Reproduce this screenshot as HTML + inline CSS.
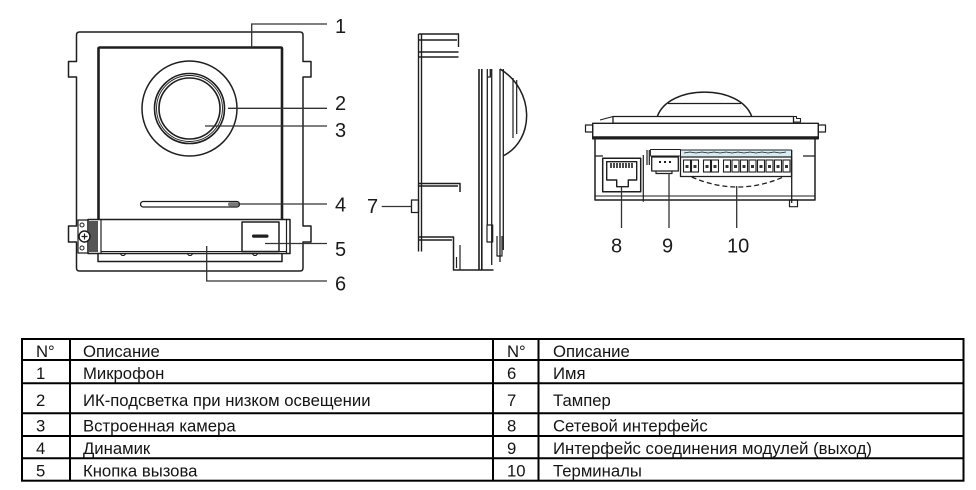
<!DOCTYPE html>
<html><head><meta charset="utf-8"><style>
html,body{margin:0;padding:0;background:#fff;}
svg{display:block;}
.t{font-family:"Liberation Sans",sans-serif;font-size:16.7px;fill:#141414;}
.lb{font-family:"Liberation Sans",sans-serif;font-size:20px;fill:#1a1a1a;}
</style></head><body>
<svg width="976" height="490" viewBox="0 0 976 490" xmlns="http://www.w3.org/2000/svg">
<rect width="976" height="490" fill="#fff"/>
<g fill="none" stroke="#1e1e1e" stroke-width="1.5" stroke-linejoin="round">
<!-- FRONT VIEW -->
<path d="M79.5,32 H300 Q303,32 303,35 V61.5 H311 V77 H303 V226 H311 V242 H303 V268 Q303,271 300,271 H79.5 Q76.5,271 76.5,268 V242 H68.5 V226 H76.5 V77 H68.5 V61.5 H76.5 V35 Q76.5,32 79.5,32 Z"/>
<path d="M98.5,219.5 V48.5 Q98.5,47.5 100,47.5 H280.5 Q282,47.5 282,48.5 V219.5" stroke-width="2.6"/>
<circle cx="189.5" cy="108.5" r="47.5"/>
<circle cx="189.5" cy="108.5" r="35" stroke-width="1.6"/>
<circle cx="189.5" cy="108.5" r="33" stroke-width="0.9"/>
<circle cx="189.5" cy="108.5" r="30.5" stroke-width="1.6"/>
<rect x="140.5" y="201.5" width="99" height="5.5" rx="2.75" stroke-width="1.3"/>
<rect x="88" y="219.5" width="202" height="34"/>
<line x1="286.5" y1="219.5" x2="286.5" y2="253.5" stroke-width="1.2"/>
<line x1="101" y1="219.5" x2="101" y2="253.5" stroke-width="1.2"/>
<line x1="101" y1="251.5" x2="286.5" y2="251.5" stroke-width="0.9"/>
<path d="M98,253.5 V261.5 H282 V253.5"/>
<path d="M120,253.5 l2,2 h2 l2,-2 M187,253.5 l2,2 h2 l2,-2 M252,253.5 l2,2 h2 l2,-2" stroke-width="1"/>
<rect x="242" y="222" width="37" height="29.5"/>
<rect x="78" y="220" width="10" height="33" stroke-width="1.2"/>
<circle cx="82" cy="225" r="2" stroke-width="1"/>
<circle cx="82" cy="248" r="2" stroke-width="1"/>
<!-- SIDE VIEW -->
<path d="M418.5,34 V251.5 M421.5,34 V251.5" stroke-width="1.4"/>
<path d="M418.5,34 H458.5 V47 M418.5,40 H457 M418.5,52 H458.5 M418.5,57 H458.5" stroke-width="1.4"/>
<path d="M418.5,183.5 H460 V192 M418.5,186 H458" stroke-width="1.5"/>
<path d="M418.5,237 H453.5 V270 H493.5 M418.5,240 H452" stroke-width="1.5"/>
<path d="M460,245 V270 M456.5,257 V268" stroke-width="1.2"/>
<rect x="411.5" y="200" width="7" height="12.5" stroke-width="1.3"/>
<path d="M479,69 V270 M481.8,69 V270" stroke-width="1.6"/>
<path d="M487.3,69 V225 M487.3,69 v8 h3 v-8 M491.7,69 V265 M500,69 V262 M503.3,69 V250" stroke-width="1.3"/>
<rect x="487" y="225" width="5.7" height="17" stroke-width="1.2"/>
<path d="M497,236 V256 h5 V236" stroke-width="1.2"/>
<path d="M500,69 C535,90 535,140 503,156" stroke-width="1.5"/>
<path d="M513,78 V138 M516.7,80 V134" stroke-width="1.2"/>
<!-- BACK VIEW -->
<path d="M657.3,116.5 C669,84 740,84 751.7,116.5" stroke-width="1.5"/>
<path d="M668,103.5 H741" stroke-width="1.2"/>
<rect x="613" y="116.5" width="180.5" height="6.8" stroke-width="1.3"/>
<path d="M793.5,116.5 h3 v2 h4 v3.5 h-7" stroke-width="1.1"/>
<path d="M600,120 l13,-3.5" stroke-width="1"/>
<rect x="592.7" y="123.3" width="225.6" height="15.5" stroke-width="1.4"/>
<line x1="592.7" y1="137.5" x2="818.3" y2="137.5" stroke-width="2.6"/>
<rect x="585.5" y="125" width="7.2" height="7" stroke-width="1.2"/>
<rect x="818.3" y="125" width="7.2" height="7" stroke-width="1.2"/>
<path d="M595,139 V200 H815 V139" stroke-width="1.5"/>
<path d="M595,196 H815" stroke-width="1"/>
<path d="M595,156 h8 M803,156 h12" stroke-width="1.2"/>
<rect x="602.7" y="158.3" width="38" height="33.4" stroke-width="1.5"/>
<path d="M606.7,161.7 H636.7 V180 H628.3 V186.7 H616.7 V180 H606.7 Z" stroke-width="1.4"/>
<path d="M611,163 v5 M614,163 v5 M617,163 v5 M620,163 v5 M623,163 v5 M626,163 v5 M629,163 v5 M632,163 v5" stroke-width="1.6"/>
<path d="M643.3,155 V201.7 M647,150 V165 M649.3,150 V165" stroke-width="1.2"/>
<rect x="650.5" y="149.5" width="30" height="6.5" stroke-width="0.9"/>
<rect x="651.7" y="157" width="26.6" height="14" stroke-width="1.3"/>
<path d="M656,171 v2.5 h16 v-2.5" stroke-width="1.2"/>
<path d="M659,162 h2 M664,162 h2 M669,162 h2" stroke-width="2"/>
<rect x="680.5" y="150" width="111" height="7" fill="#d6ecf2" stroke-width="1"/>
<path d="M684,153 l6,-1 l6,1 l6,-1 l6,1 l6,-1 l6,1 l6,-1 l6,1 l6,-1 l6,1 l6,-1 l6,1 l6,-1 l6,1 l6,-1 l6,1 l6,-1" stroke-width="0.8"/>
<rect x="680.5" y="157" width="111" height="19.5" stroke-width="1.3"/>
<line x1="791.7" y1="150" x2="791.7" y2="203" stroke-width="1.3"/>
<rect x="789.5" y="200" width="8" height="6.7" stroke-width="1.2"/>
<path d="M691.7,177 Q737.5,197 783.3,177" stroke-width="1.3" stroke-dasharray="5,3"/>
</g>
<!-- terminal cells -->
<g fill="none" stroke="#1e1e1e" stroke-width="1.1">
<rect x="683.5" y="160" width="7" height="12"/><rect x="691.5" y="160" width="7" height="12"/>
<rect x="703.5" y="160" width="7" height="12"/><rect x="711.5" y="160" width="7" height="12"/>
<rect x="723.5" y="160" width="7" height="12"/><rect x="732" y="160" width="7" height="12"/>
<rect x="740.5" y="160" width="7" height="12"/><rect x="749" y="160" width="7" height="12"/>
<rect x="757.5" y="160" width="7" height="12"/><rect x="766" y="160" width="7" height="12"/>
<rect x="774.5" y="160" width="7" height="12"/><rect x="783" y="160" width="7" height="12"/>
</g>
<g fill="#333">
<rect x="685.5" y="165" width="3" height="3"/><rect x="693.5" y="165" width="3" height="3"/>
<rect x="705.5" y="165" width="3" height="3"/><rect x="713.5" y="165" width="3" height="3"/>
<rect x="725.5" y="165" width="3" height="3"/><rect x="734" y="165" width="3" height="3"/>
<rect x="742.5" y="165" width="3" height="3"/><rect x="751" y="165" width="3" height="3"/>
<rect x="759.5" y="165" width="3" height="3"/><rect x="768" y="165" width="3" height="3"/>
<rect x="776.5" y="165" width="3" height="3"/><rect x="785" y="165" width="3" height="3"/>
<!-- front extras -->
<rect x="228" y="202.2" width="10.5" height="4.2" rx="2" fill="#777"/>
<rect x="252" y="234.5" width="16.5" height="3.2" rx="1.5" fill="#1e1e1e"/>
<rect x="89" y="221" width="9" height="31" fill="#555"/>
</g>
<circle cx="84.5" cy="236.5" r="5.5" fill="#fff" stroke="#1e1e1e" stroke-width="1.5"/>
<path d="M81.5,236.5 h6 M84.5,233.5 v6" stroke="#1e1e1e" stroke-width="1.2"/>
<!-- leader lines -->
<g fill="none" stroke="#333" stroke-width="1.3">
<path d="M251.7,47.5 V24 H327"/>
<path d="M228,108.3 H327"/>
<path d="M205,126 H327"/>
<path d="M238,204 H327"/>
<path d="M265,243.5 H327"/>
<path d="M206.7,246 V281 H327"/>
<path d="M381.7,206.5 H411.5"/>
<path d="M621.5,186.7 V228"/>
<path d="M669,173.5 V228"/>
<path d="M736.7,186 V228"/>
</g>
<g class="lb">
<text x="335" y="33">1</text>
<text x="335" y="110">2</text>
<text x="335" y="137">3</text>
<text x="335" y="211.5">4</text>
<text x="335" y="256">5</text>
<text x="335" y="290.5">6</text>
<text x="367" y="213">7</text>
<text x="611" y="252.5">8</text>
<text x="662" y="252.5">9</text>
<text x="727" y="252.5">10</text>
</g>
<!-- TABLE -->
<g fill="none" stroke="#000" stroke-width="2">
<rect x="22" y="339" width="941.5" height="141.7"/>
<path d="M22,360 H963.5 M22,383.3 H963.5 M22,413.3 H963.5 M22,436 H963.5 M22,458.3 H963.5"/>
<path d="M70,339 V480.7 M493,339 V480.7 M538.5,339 V480.7"/>
</g>
<g class="t">
<text x="36" y="357">N°</text><text x="83" y="357">Описание</text>
<text x="36" y="379">1</text><text x="83" y="379">Микрофон</text>
<text x="36" y="406">2</text><text x="83" y="406">ИК-подсветка при низком освещении</text>
<text x="36" y="431.5">3</text><text x="83" y="431.5">Встроенная камера</text>
<text x="36" y="454">4</text><text x="83" y="454">Динамик</text>
<text x="36" y="476.5">5</text><text x="83" y="476.5">Кнопка вызова</text>
<text x="507" y="357">N°</text><text x="553" y="357">Описание</text>
<text x="507" y="379">6</text><text x="553" y="379">Имя</text>
<text x="507" y="406">7</text><text x="553" y="406">Тампер</text>
<text x="507" y="431.5">8</text><text x="553" y="431.5">Сетевой интерфейс</text>
<text x="507" y="454">9</text><text x="553" y="454">Интерфейс соединения модулей (выход)</text>
<text x="507" y="476.5">10</text><text x="553" y="476.5">Терминалы</text>
</g>
</svg>
</body></html>
